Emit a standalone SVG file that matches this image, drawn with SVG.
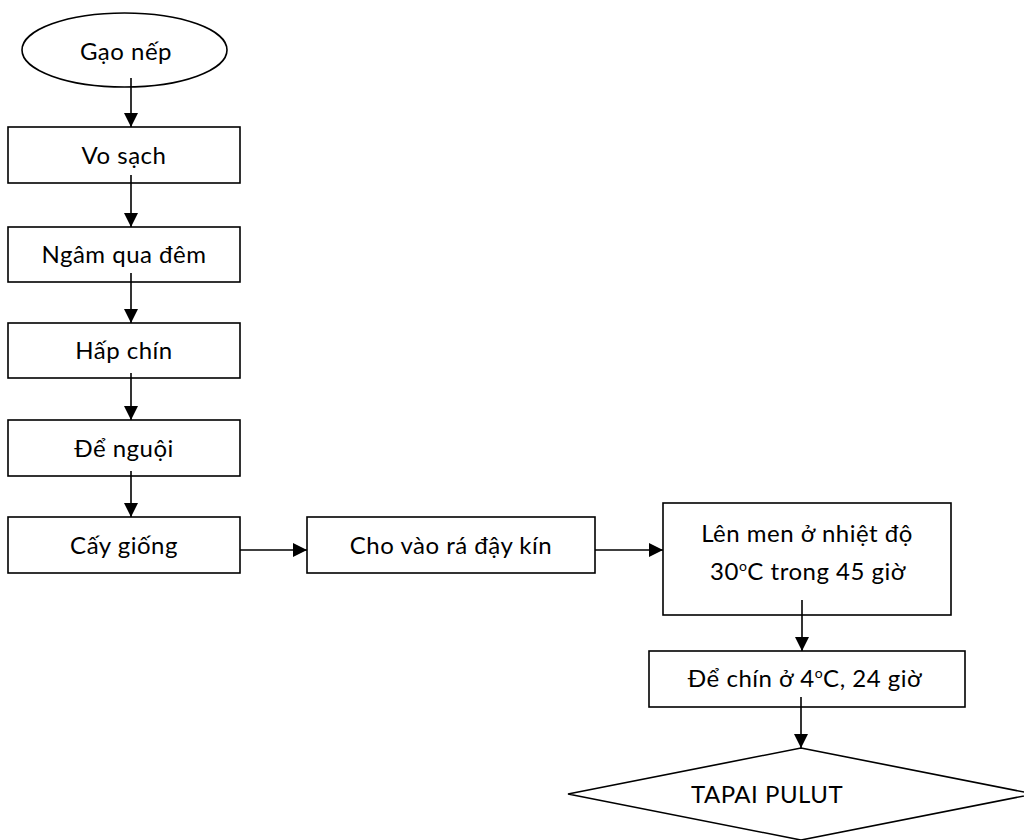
<svg xmlns="http://www.w3.org/2000/svg" width="1024" height="840" viewBox="0 0 1024 840">
  <style>
    .shape { fill: #ffffff; stroke: #000000; stroke-width: 1.6; }
    .label { font-family: Lato, "Noto Sans", sans-serif; font-size: 24px; letter-spacing: 0.5px; fill: #000000; text-anchor: middle; }
    .sup { font-size: 14px; }
    .link { fill: none; stroke: #000000; stroke-width: 1.6; }
  </style>
  <defs>
    <marker id="arrow" viewBox="0 0 14 14" refX="14" refY="7" markerWidth="14" markerHeight="14" markerUnits="userSpaceOnUse" orient="auto">
      <path d="M0,0 L14,7 L0,14 Z" fill="#000000"/>
    </marker>
  </defs>

  <rect width="1024" height="840" fill="#ffffff"/>

  <!-- process steps -->
  <g id="start">
    <ellipse class="shape" cx="124.5" cy="50" rx="102.5" ry="37"/>
    <text class="label" x="126" y="60">Gạo nếp</text>
  </g>
  <g id="wash">
    <rect class="shape" x="8" y="127" width="232" height="56"/>
    <text class="label" x="124" y="164">Vo sạch</text>
  </g>
  <g id="soak">
    <rect class="shape" x="8" y="227" width="232" height="55"/>
    <text class="label" x="124" y="263">Ngâm qua đêm</text>
  </g>
  <g id="steam">
    <rect class="shape" x="8" y="323" width="232" height="55"/>
    <text class="label" x="124" y="359">Hấp chín</text>
  </g>
  <g id="cool">
    <rect class="shape" x="8" y="420" width="232" height="56"/>
    <text class="label" x="124" y="457">Để nguội</text>
  </g>
  <g id="inoculate">
    <rect class="shape" x="8" y="517" width="232" height="56"/>
    <text class="label" x="124" y="554">Cấy giống</text>
  </g>
  <g id="basket">
    <rect class="shape" x="307" y="517" width="288" height="56"/>
    <text class="label" x="451" y="554">Cho vào rá đậy kín</text>
  </g>
  <g id="ferment">
    <rect class="shape" x="663" y="503" width="288" height="112"/>
    <text class="label" x="807" y="542">Lên men ở nhiệt độ</text>
    <text class="label" x="808" y="580">30<tspan class="sup" dy="-9">o</tspan><tspan dy="9">C trong 45 giờ</tspan></text>
  </g>
  <g id="ripen">
    <rect class="shape" x="649" y="651" width="316" height="56"/>
    <text class="label" x="805" y="687">Để chín ở 4<tspan class="sup" dy="-9">o</tspan><tspan dy="9">C, 24 giờ</tspan></text>
  </g>
  <g id="product">
    <polygon class="shape" points="801,748 1034,794 801,840 568,794"/>
    <text class="label" x="767" y="803">TAPAI PULUT</text>
  </g>

  <!-- connectors -->
  <g id="connectors">
    <line class="link" x1="131" y1="78" x2="131" y2="127" marker-end="url(#arrow)"/>
    <line class="link" x1="131" y1="175" x2="131" y2="227" marker-end="url(#arrow)"/>
    <line class="link" x1="131" y1="273" x2="131" y2="323" marker-end="url(#arrow)"/>
    <line class="link" x1="131" y1="373" x2="131" y2="420" marker-end="url(#arrow)"/>
    <line class="link" x1="131" y1="471" x2="131" y2="517" marker-end="url(#arrow)"/>
    <line class="link" x1="240" y1="550" x2="307" y2="550" marker-end="url(#arrow)"/>
    <line class="link" x1="595" y1="550" x2="663" y2="550" marker-end="url(#arrow)"/>
    <line class="link" x1="802" y1="600" x2="802" y2="651" marker-end="url(#arrow)"/>
    <line class="link" x1="801" y1="697" x2="801" y2="748" marker-end="url(#arrow)"/>
  </g>
</svg>
